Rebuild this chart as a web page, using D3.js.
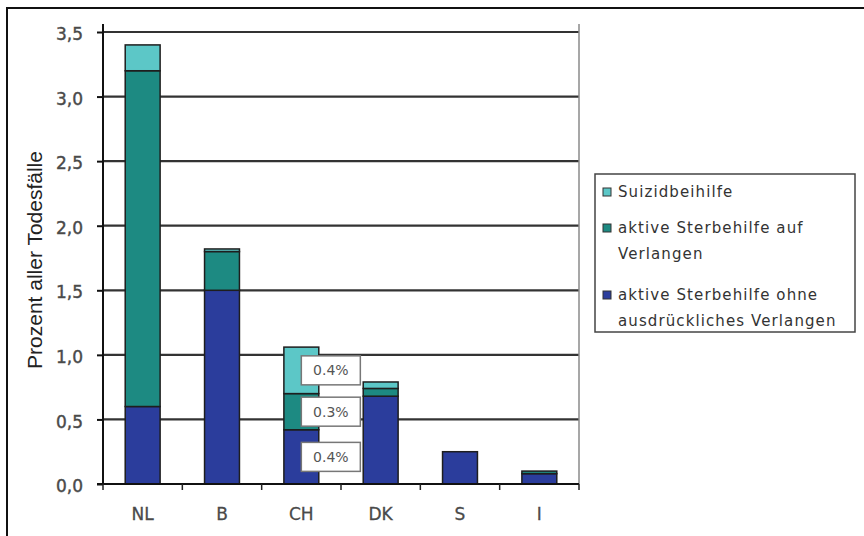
<!DOCTYPE html>
<html>
<head>
<meta charset="utf-8">
<script src="https://cdn.jsdelivr.net/npm/d3@7"></script>
<style>
  html, body { margin: 0; padding: 0; background: #fff; }
  svg { display: block; }
</style>
</head>
<body>
<svg id="chart" width="864" height="536"></svg>
<script>
// Countries on the x axis
const countries = ["NL", "B", "CH", "DK", "S", "I"];

// Share of all deaths (%), by type of end-of-life decision
const ohneVerlangen = [0.60, 1.50, 0.42, 0.68, 0.25, 0.08];
const aufVerlangen  = [2.60, 0.30, 0.28, 0.06, 0.00, 0.02];
const suizidhilfe   = [0.20, 0.02, 0.36, 0.05, 0.00, 0.00];

// Series in stacking order (bottom first)
const seriesKeys   = ["ohne", "auf", "suizid"];
const seriesLabels = {
  suizid: ["Suizidbeihilfe"],
  auf:    ["aktive Sterbehilfe auf", "Verlangen"],
  ohne:   ["aktive Sterbehilfe ohne", "ausdrückliches Verlangen"]
};
const legendOrder = ["suizid", "auf", "ohne"];
const yTicks = [0, 0.5, 1.0, 1.5, 2.0, 2.5, 3.0, 3.5];

// Country whose segments carry value labels
const labelledCountry = "CH";

const colors = { ohne: "#2b3d9c", auf: "#1d8a82", suizid: "#5cc7c7" };

const rows = countries.map((c, i) => ({
  country: c,
  ohne: ohneVerlangen[i],
  auf: aufVerlangen[i],
  suizid: suizidhilfe[i]
}));

const svg = d3.select("#chart");

// Outer frame
svg.append("path")
  .attr("d", "M7,540 L7,8 L870,8")
  .attr("fill", "none")
  .attr("stroke", "#111")
  .attr("stroke-width", 2);

const plot = { left: 103, right: 579, top: 24, bottom: 484 };

const x = d3.scaleBand()
  .domain(countries)
  .range([plot.left, plot.right])
  .paddingInner(0.56)
  .paddingOuter(0.28);

const y = d3.scaleLinear()
  .domain([0, 3.5])
  .range([plot.bottom, 32]);

// Horizontal gridlines
svg.append("g")
  .selectAll("line")
  .data(yTicks.filter(t => t > 0))
  .join("line")
  .attr("x1", plot.left).attr("x2", plot.right)
  .attr("y1", d => y(d)).attr("y2", d => y(d))
  .attr("stroke", "#333")
  .attr("stroke-width", 2.2);

// Right border of the plot area
svg.append("line")
  .attr("x1", plot.right).attr("x2", plot.right)
  .attr("y1", plot.top).attr("y2", plot.bottom)
  .attr("stroke", "#8a8a8a")
  .attr("stroke-width", 1.5);

// Stacked bars
const stack = d3.stack().keys(seriesKeys);
const stacked = stack(rows);

svg.append("g")
  .selectAll("g")
  .data(stacked)
  .join("g")
  .attr("fill", d => colors[d.key])
  .selectAll("rect")
  .data(d => d.filter(s => s[1] - s[0] > 0))
  .join("rect")
  .attr("x", d => x(d.data.country))
  .attr("width", x.bandwidth())
  .attr("y", d => y(d[1]))
  .attr("height", d => y(d[0]) - y(d[1]))
  .attr("stroke", "#1e1e1e")
  .attr("stroke-width", 1.5);

// Y axis
const yAxis = svg.append("g")
  .attr("transform", `translate(${plot.left},0)`)
  .call(d3.axisLeft(y)
    .tickValues(yTicks)
    .tickSize(6)
    .tickPadding(14)
    .tickFormat(d => d3.format(".1f")(d).replace(".", ",")));
yAxis.select(".domain").remove();
yAxis.selectAll(".tick line").attr("stroke", "#111").attr("stroke-width", 2);
yAxis.selectAll(".tick text")
  .attr("fill", "#4a4a4a")
  .attr("stroke", "#4a4a4a")
  .attr("stroke-width", 0.4)
  .attr("font-family", "DejaVu Sans, Verdana, sans-serif")
  .attr("font-size", 17)
  .attr("dy", "0.45em");
svg.append("line")
  .attr("x1", plot.left).attr("x2", plot.left)
  .attr("y1", plot.top).attr("y2", plot.bottom + 1)
  .attr("stroke", "#111").attr("stroke-width", 2);

// X axis: baseline, boundary ticks and category labels
svg.append("line")
  .attr("x1", plot.left - 6).attr("x2", plot.right)
  .attr("y1", plot.bottom).attr("y2", plot.bottom)
  .attr("stroke", "#111").attr("stroke-width", 2);

const boundaries = d3.range(countries.length + 1)
  .map(i => plot.left + i * x.step());
svg.append("g")
  .selectAll("line")
  .data(boundaries)
  .join("line")
  .attr("x1", d => d).attr("x2", d => d)
  .attr("y1", plot.bottom).attr("y2", plot.bottom + 6)
  .attr("stroke", "#222").attr("stroke-width", 1.5);

svg.append("g")
  .selectAll("text")
  .data(countries)
  .join("text")
  .attr("x", d => x(d) + x.bandwidth() / 2)
  .attr("y", 520)
  .attr("text-anchor", "middle")
  .attr("fill", "#4a4a4a")
  .attr("stroke", "#4a4a4a")
  .attr("stroke-width", 0.3)
  .attr("font-family", "DejaVu Sans, Verdana, sans-serif")
  .attr("font-size", 17)
  .text(d => d);

// Y axis title
svg.append("text")
  .attr("transform", "translate(42,260) rotate(-90)")
  .attr("text-anchor", "middle")
  .attr("fill", "#222")
  .attr("font-family", "Liberation Sans, Arial, sans-serif")
  .attr("font-size", 21)
  .text("Prozent aller Todesfälle");

// Value labels for the segments of the labelled country
const ci = countries.indexOf(labelledCountry);
const boxW = 59, boxH = 29;
const segs = stacked.map(s => ({ key: s.key, lo: s[ci][0], hi: s[ci][1] }));
const labelG = svg.append("g")
  .selectAll("g")
  .data(segs)
  .join("g")
  .attr("transform", d => {
    const cx = x(labelledCountry) + x.bandwidth() / 2;
    const cy = (y(d.lo) + y(d.hi)) / 2;
    return `translate(${cx},${cy})`;
  });
labelG.append("rect")
  .attr("x", 0).attr("y", -boxH / 2)
  .attr("width", boxW).attr("height", boxH)
  .attr("fill", "#fff")
  .attr("stroke", "#777")
  .attr("stroke-width", 1.5);
labelG.append("text")
  .attr("x", boxW / 2).attr("y", 0)
  .attr("dy", "0.36em")
  .attr("text-anchor", "middle")
  .attr("fill", "#555")
  .attr("font-family", "DejaVu Sans, Verdana, sans-serif")
  .attr("font-size", 14)
  .text(d => d3.format(".1f")(d.hi - d.lo) + "%");

// Legend
const legend = svg.append("g");
legend.append("rect")
  .attr("x", 595).attr("y", 174)
  .attr("width", 260).attr("height", 158)
  .attr("fill", "#fff")
  .attr("stroke", "#444")
  .attr("stroke-width", 1.5);

const legendRows = [192, 228, 295];
legendOrder.forEach((key, i) => {
  const ly = legendRows[i];
  legend.append("rect")
    .attr("x", 603).attr("y", ly - 4)
    .attr("width", 8).attr("height", 8)
    .attr("fill", colors[key])
    .attr("stroke", "#333").attr("stroke-width", 1);
  seriesLabels[key].forEach((line, j) => {
    legend.append("text")
      .attr("x", 618).attr("y", ly + j * 26)
      .attr("dy", "0.36em")
      .attr("fill", "#333")
      .attr("font-family", "DejaVu Sans, Verdana, sans-serif")
      .attr("font-size", 15)
      .attr("letter-spacing", 1.1)
      .text(line);
  });
});
</script>
</body>
</html>
